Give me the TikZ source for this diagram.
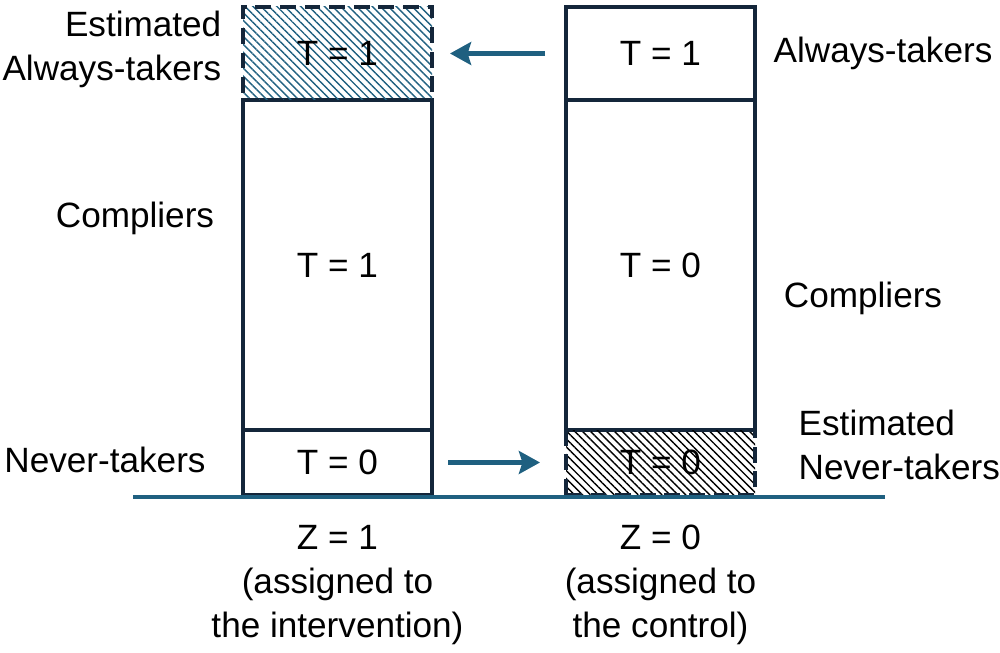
\documentclass[tikz,border=0pt]{standalone}
\usepackage{fontspec}
\setmainfont{Liberation Sans}
\usetikzlibrary{positioning,arrows.meta,patterns.meta}

\definecolor{flowblue}{HTML}{1F6080}
\definecolor{boxline}{HTML}{14263A}

\tikzset{
  column/.style={draw=boxline, line width=2.2pt, minimum width=3.78cm,
    outer sep=0pt, inner sep=0pt},
  estimated/.style={column, dash pattern=on 9pt off 5pt},
  tag/.style={align=center},
  flow/.style={flowblue, line width=2.5pt,
    -{Stealth[length=12pt, width=13pt, inset=2pt]}},
}

\begin{document}
\begin{tikzpicture}[font=\fontsize{20}{25}\selectfont]
    \useasboundingbox (0,0) rectangle (20,13.04);

    % Z = 1 column
    \node[column, minimum height=6.6cm] (lmid) at (6.75,7.74) {T = 1};
    \node[estimated, minimum height=1.86cm, above=0pt of lmid,
      pattern={Lines[angle=-45, distance=3.2pt, line width=0.8pt]},
      pattern color=flowblue] (ltop) {T = 1};
    \node[column, minimum height=1.3cm, below=0pt of lmid] (lbot) {T = 0};

    % Z = 0 column
    \node[column, minimum height=6.6cm] (rmid) at (13.21,7.74) {T = 0};
    \node[column, minimum height=1.86cm, above=0pt of rmid] (rtop) {T = 1};
    \node[estimated, minimum height=1.3cm, below=0pt of rmid,
      pattern={Lines[angle=-45, distance=3.2pt, line width=0.8pt]},
      pattern color=black] (rbot) {T = 0};

    % Baseline
    \coordinate (axisL) at (2.66,3.1);
    \coordinate (axisR) at (17.7,3.1);
    \draw[flowblue, line width=2pt] (axisL) -- (axisR);

    % Arrows between columns
    \draw[flow, shorten <=0.42cm, shorten >=0.36cm] (rtop.west) -- (ltop.east);
    \draw[flow, shorten <=0.32cm, shorten >=0.52cm] (lbot.east) -- (rbot.west);

    % Group labels
    \node[tag, align=right, anchor=east] (estAT) at (4.55,12.05) {Estimated\\Always-takers};
    \node[tag] (lcomp) at (2.7,8.68) {Compliers};
    \node[tag] (lnever) at (2.1,3.84) {Never-takers};
    \node[tag] (ralways) at (17.66,11.98) {Always-takers};
    \node[tag] (rcomp) at (17.26,7.08) {Compliers};
    \node[tag, align=left, anchor=west] (estNT) at (15.85,4.14) {Estimated\\Never-takers};

    % Assignment labels
    \node[tag] (zone) at (6.75,1.34) {Z = 1\\(assigned to\\the intervention)};
    \node[tag] (zzero) at (13.21,1.34) {Z = 0\\(assigned to\\the control)};
\end{tikzpicture}
\end{document}
